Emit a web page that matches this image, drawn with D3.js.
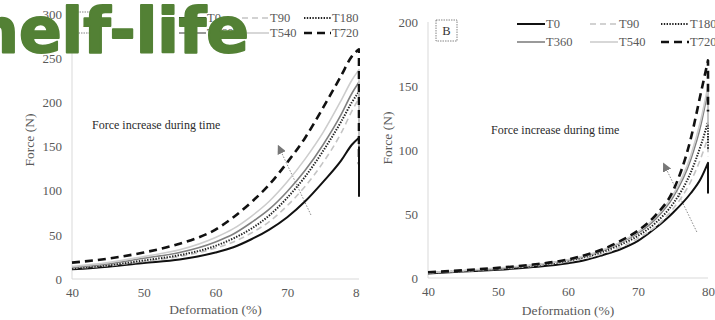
<!DOCTYPE html>
<html>
<head>
<meta charset="utf-8">
<script src="https://cdn.jsdelivr.net/npm/d3@7"></script>
<style>
  html, body { margin: 0; padding: 0; background: #fff; }
  svg { display: block; }
</style>
</head>
<body>
<svg id="chart" width="715" height="320"></svg>
<script>
// Compression curves: force vs deformation at each storage time
const deformation = [40, 45, 50, 55, 60, 62.5, 65, 67.5, 70, 72.5, 75, 77.5, 79, 80];
const seriesNames = ["T0", "T90", "T180", "T360", "T540", "T720"];

// Panel A (force, N)
const aT0   = [11, 14, 18, 22, 30, 36, 45, 56, 70, 88, 110, 134, 152, 160];
const aT90  = [12, 15, 20, 25.5, 35, 42, 52, 65, 83, 105, 132, 165, 190, 205];
const aT180 = [12, 15.5, 21, 27, 37.5, 46, 57, 72, 92, 116, 145, 178, 200, 212];
const aT360 = [13, 17, 23.5, 30, 42, 51, 64, 79, 99, 123, 152, 186, 210, 223];
const aT540 = [14, 18.5, 25.5, 33, 47, 57, 71, 88, 110, 136, 166, 202, 225, 237];
const aT720 = [18.5, 23, 30, 40, 56, 70, 87, 107, 132, 160, 194, 230, 252, 260];
// force after rupture at 80 %
const aRupture = [93, 175, 170, 160, 150, 130];

// Panel B (force, N)
const bT0   = [3.5, 5, 6.5, 8.5, 11.5, 14, 18, 22.5, 29, 39, 51, 66, 78, 90];
const bT90  = [4, 5.3, 7, 9.3, 12.8, 15.5, 19, 24, 31, 40, 54, 75, 94, 110];
const bT180 = [4, 5.5, 7.3, 9.8, 13.5, 16.5, 20.5, 26, 33, 43, 58, 82, 104, 122];
const bT360 = [4, 5.5, 7.5, 10, 14, 17, 21.5, 27.5, 35, 46, 63, 92, 120, 147];
const bT540 = [4.2, 5.8, 7.8, 10.3, 14.3, 17.5, 22, 28, 36, 47.5, 65, 95, 124, 150];
const bT720 = [4.5, 6, 8, 10.5, 14.5, 18, 22.5, 29, 37, 49, 68, 108, 145, 170];
const bRupture = [66, 95, 100, 118, 120, 130];

const xTicks = [40, 50, 60, 70, 80];
const yTicksA = [0, 50, 100, 150, 200, 250, 300];
const yTicksB = [0, 50, 100, 150, 200];

// Trend arrows [deformation, force] from tail to head
const arrowA = [[73.3, 72.5], [68.8, 150]];
const arrowB = [[78.4, 36], [73.7, 89]];

const panelLetters = ["A", "B"];
const noteText = "Force increase during time";
const xTitle = "Deformation (%)";
const yTitle = "Force (N)";

// ---- styles ----
const lineStyle = {
  T0:   { stroke: "#111", width: 2, dash: null },
  T90:  { stroke: "#c4c4c4", width: 1.6, dash: "6,4" },
  T180: { stroke: "#222", width: 2, dash: "1.4,1.4" },
  T360: { stroke: "#808080", width: 1.6, dash: null },
  T540: { stroke: "#cdcdcd", width: 1.6, dash: null },
  T720: { stroke: "#111", width: 2.6, dash: "8,5" }
};
const serif = "'Liberation Serif', 'Times New Roman', serif";
const tickColor = "#595959";
const axisColor = "#d9d9d9";

const svg = d3.select("#chart");
const defs = svg.append("defs");
defs.append("clipPath").attr("id", "clipA")
  .append("rect").attr("x", 0).attr("y", 0).attr("width", 360).attr("height", 320);
defs.append("marker").attr("id", "arrowHead")
  .attr("viewBox", "0 0 10 10").attr("refX", 8).attr("refY", 5)
  .attr("markerWidth", 9).attr("markerHeight", 9).attr("markerUnits", "userSpaceOnUse")
  .attr("orient", "auto")
  .append("path").attr("d", "M0,0 L10,5 L0,10 Z").attr("fill", "#777");

function drawPanel(cfg) {
  const g = svg.append("g");
  if (cfg.clip) g.attr("clip-path", "url(#" + cfg.clip + ")");

  const x = d3.scaleLinear().domain([40, 80]).range(cfg.xRange);
  const y = d3.scaleLinear().domain([0, cfg.yMax]).range(cfg.yRange);

  // axis lines
  g.append("line").attr("x1", x(40)).attr("x2", x(40))
    .attr("y1", y(cfg.yMax)).attr("y2", y(0))
    .attr("stroke", axisColor).attr("stroke-width", 1);
  g.append("line").attr("x1", x(40)).attr("x2", x(80))
    .attr("y1", y(0)).attr("y2", y(0))
    .attr("stroke", axisColor).attr("stroke-width", 1);

  // y axis
  const yAxis = d3.axisLeft(y).tickValues(cfg.yTicks).tickSize(0).tickPadding(10);
  const ya = g.append("g").attr("transform", `translate(${x(40)},0)`).call(yAxis);
  ya.select(".domain").remove();
  ya.selectAll("text").attr("font-family", serif).attr("font-size", 13).attr("fill", tickColor);

  // x axis
  const xAxis = d3.axisBottom(x).tickValues(xTicks).tickSize(0).tickPadding(9);
  const xa = g.append("g").attr("transform", `translate(0,${y(0)})`).call(xAxis);
  xa.select(".domain").remove();
  xa.selectAll("text").attr("font-family", serif).attr("font-size", 13).attr("fill", tickColor);

  // titles
  g.append("text").attr("x", (x(40) + x(80)) / 2).attr("y", cfg.xTitleY)
    .attr("text-anchor", "middle").attr("font-family", serif).attr("font-size", 13.5)
    .attr("fill", tickColor).text(xTitle);
  g.append("text").attr("transform", `translate(${cfg.yTitleX},${cfg.yTitleY}) rotate(-90)`)
    .attr("text-anchor", "middle").attr("dy", "0.35em").attr("font-family", serif)
    .attr("font-size", 13.5).attr("fill", tickColor).text(yTitle);

  // panel letter box
  const bx = g.append("g").attr("transform", `translate(${cfg.box[0]},${cfg.box[1]})`);
  bx.append("rect").attr("width", 21).attr("height", 21).attr("fill", "#fff")
    .attr("stroke", "#666").attr("stroke-width", 0.8).attr("stroke-dasharray", "1.5,1");
  bx.append("text").attr("x", 10.5).attr("y", 15).attr("text-anchor", "middle")
    .attr("font-family", serif).attr("font-size", 12.5).attr("fill", "#333").text(cfg.letter);

  // note + trend arrow
  g.append("text").attr("x", cfg.note[0]).attr("y", cfg.note[1])
    .attr("font-family", serif).attr("font-size", 12).attr("fill", "#2b2b2b").text(noteText);
  g.append("line")
    .attr("x1", x(cfg.arrow[0][0])).attr("y1", y(cfg.arrow[0][1]))
    .attr("x2", x(cfg.arrow[1][0])).attr("y2", y(cfg.arrow[1][1]))
    .attr("stroke", "#8a8a8a").attr("stroke-width", 1).attr("stroke-dasharray", "1.5,1.5")
    .attr("marker-end", "url(#arrowHead)");

  // curves, each ending with the vertical drop at rupture
  const curve = d3.line().x(d => x(d[0])).y(d => y(d[1])).curve(d3.curveMonotoneX);
  seriesNames.forEach((name, i) => {
    const vals = cfg.series[i];
    const pts = deformation.map((d, j) => [d, vals[j]]);
    const last = pts[pts.length - 1];
    const path = curve(pts) + `L${x(last[0])},${y(cfg.rupture[i])}`;
    const st = lineStyle[name];
    g.append("path").attr("d", path).attr("fill", "none")
      .attr("stroke", st.stroke).attr("stroke-width", st.width)
      .attr("stroke-dasharray", st.dash).attr("stroke-linejoin", "round");
  });

  // legend
  seriesNames.forEach((name, i) => {
    const col = i % 3, row = Math.floor(i / 3);
    const lx = cfg.legendX[col], ly = cfg.legendY[row];
    const st = lineStyle[name];
    g.append("line").attr("x1", lx).attr("x2", lx + cfg.legendLen)
      .attr("y1", ly).attr("y2", ly)
      .attr("stroke", st.stroke).attr("stroke-width", st.width)
      .attr("stroke-dasharray", st.dash);
    g.append("text").attr("x", lx + cfg.legendLen + 1).attr("y", ly).attr("dy", "0.35em")
      .attr("font-family", serif).attr("font-size", 12.5).attr("fill", tickColor).text(name);
  });
}

drawPanel({
  clip: "clipA",
  letter: panelLetters[0],
  xRange: [72, 359], yRange: [279, 14], yMax: 300, yTicks: yTicksA,
  series: [aT0, aT90, aT180, aT360, aT540, aT720], rupture: aRupture,
  arrow: arrowA,
  xTitleY: 314, yTitleX: 29, yTitleY: 140,
  box: [77, 12], note: [92, 129],
  legendX: [179, 242, 304], legendY: [18, 33], legendLen: 27
});

drawPanel({
  letter: panelLetters[1],
  xRange: [428, 708], yRange: [278, 22], yMax: 200, yTicks: yTicksB,
  series: [bT0, bT90, bT180, bT360, bT540, bT720], rupture: bRupture,
  arrow: arrowB,
  xTitleY: 315, yTitleX: 387, yTitleY: 138,
  box: [436, 20], note: [491, 134],
  legendX: [517, 590, 661], legendY: [24, 42], legendLen: 28
});

// overlaid heading
svg.append("text").attr("x", 249).attr("y", 52).attr("text-anchor", "end")
  .attr("font-family", "'DejaVu Sans', Verdana, sans-serif").attr("font-weight", "bold")
  .attr("font-size", 63).attr("fill", "#538135")
  .attr("stroke", "#538135").attr("stroke-width", 2).attr("stroke-linejoin", "round")
  .text("Shelf-life");
</script>
</body>
</html>
